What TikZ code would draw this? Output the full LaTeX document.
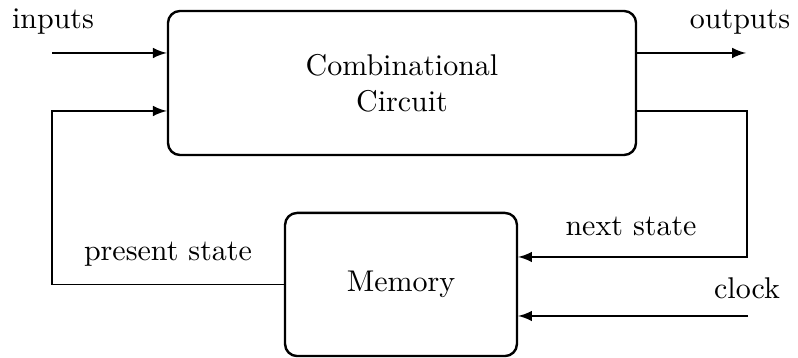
\documentclass[tikz,border=0pt]{standalone}
\usepackage{tikz}
\usetikzlibrary{arrows,positioning,calc}

\begin{document}
\begin{tikzpicture}[x=0.3333pt, y=-0.3333pt, >=latex]
    \tikzstyle{block} = [draw, thick, rectangle, rounded corners, minimum width=156pt, minimum height=48pt, align=center]
    \tikzstyle{signal} = [coordinate]
    \tikzstyle{wire} = [semithick]
    \useasboundingbox (0,0) rectangle (798,358);

    % Nodes
    \node [block] (comb) at (402,83) {Combinational \\ Circuit};
    \node [block, minimum width=77.3pt, minimum height=47.7pt] (memory) at (401,284.5) {Memory};
    \node [signal] (in) at (52,53) {};
    \node [signal] (out) at (746,53) {};
    \node [signal] (ps_turn) at (52,111) {};
    \node [signal] (ns_turn) at (747,111) {};
    \node [signal] (ns_down) at (747,257) {};
    \node [signal] (clk) at (748,316) {};

    % Labels
    \node (in_lbl) at (53,22) {inputs};
    \node (out_lbl) at (740,22) {outputs};
    \node (ps_lbl) at (168,254) {present state};
    \node (ns_lbl) at (631,226) {next state};
    \node (clk_lbl) at (747,288) {clock};

    % Paths
    \draw [->, wire] (in) -- (in -| comb.west);
    \draw [->, wire] (comb.east |- out) -- (out);
    \draw [->, wire] (memory.west) -| (ps_turn) -- (ps_turn -| comb.west);
    \draw [->, wire] (comb.east |- ns_turn) -- (ns_turn) -- (ns_down) -- (ns_down -| memory.east);
    \draw [->, wire] (clk) -- (clk -| memory.east);
\end{tikzpicture}
\end{document}
